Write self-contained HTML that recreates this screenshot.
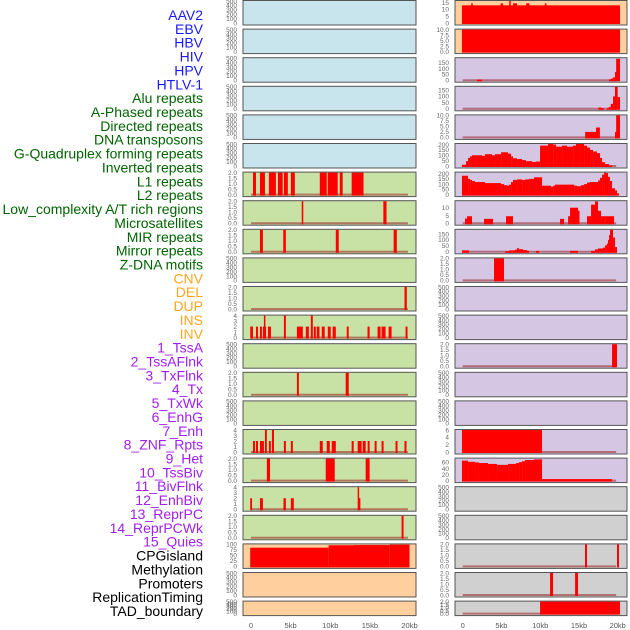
<!DOCTYPE html>
<html><head><meta charset="utf-8"><style>
html,body{margin:0;padding:0;background:#fff;}
svg{display:block;font-family:"Liberation Sans",sans-serif;}
</style></head><body>
<svg id="chart" width="630" height="630" viewBox="0 0 630 630" xmlns="http://www.w3.org/2000/svg"></svg>
<script>
const labels = ["AAV2","EBV","HBV","HIV","HPV","HTLV-1","Alu repeats","A-Phased repeats","Directed repeats","DNA transposons","G-Quadruplex forming repeats","Inverted repeats","L1 repeats","L2 repeats","Low_complexity A/T rich regions","Microsatellites","MIR repeats","Mirror repeats","Z-DNA motifs","CNV","DEL","DUP","INS","INV","1_TssA","2_TssAFlnk","3_TxFlnk","4_Tx","5_TxWk","6_EnhG","7_Enh","8_ZNF_Rpts","9_Het","10_TssBiv","11_BivFlnk","12_EnhBiv","13_ReprPC","14_ReprPCWk","15_Quies","CPGisland","Methylation","Promoters","ReplicationTiming","TAD_boundary"];
const groupSizes = [6,13,5,15,5];
const groupText = ["#1a1aff","#006400","#ffa520","#a020f0","#000000"];
const groupFill = ["#c8e4ec","#c8e1a4","#ffcf9e","#d5c6e3","#d0d0d0"];
const xTickKb = [0,5,10,15,20];
const xTickLabels = ["0","5kb","10kb","15kb","20kb"];

const E = [0,100,200,300,400,500];
const T2 = [0,0.5,1,1.5,2];
const T4 = [0,1,2,3,4];
// per-panel y ticks (44 panels, column-major)
const panelTicks = [E,E,E,E,E,E, T2,T2,T2,E,T2,T4,E,T2,E,T4,T2,T4,T2,[0,25,50,75,100],E,E,
  [0,5,10,15],[0,2.5,5,7.5,10],[0,50,100,150],[0,50,100,150],[0,2.5,5,7.5,10],[0,50,100,150,200],[0,50,100,150,200],[0,5,10],[0,50,100,150],T2,E,E,T2,E,E,[0,2,4,6],[0,20,40,60],E,E,T2,T2,T2];
const panelYmax = [500,500,500,500,500,500, 2,2,2,500,2,4,500,2,500,4,2,4,2,100,500,500,
  16.2,10,190,178,10,205,210,14.2,185,2,500,500,2,500,500,6,72.6,500,500,2,2,2];
const decimalTicks = [6,7,8,10,13,16,18, 23,26,31,34,41,42,43];

function stepSegs(starts, values, end){
  const out=[];
  for(let i=0;i<starts.length;i++) out.push([starts[i], i+1<starts.length?starts[i+1]:end, values[i]]);
  return out;
}
const txStarts = [-0.1,0.43,0.69,0.95,1.2,1.59,2.49,2.88,3.78,4.17,4.95,5.85,6.24,6.49,7.01,7.66,8.17,8.95,9.46,9.98,11.01,11.66,12.04,12.82,13.46,14.24,14.62,15.01,15.66,16.04,16.43,16.82,17.33,17.72,17.98,18.37,18.88];
const txValues = [12,45,75,90,100,100,95,110,100,110,128,115,90,72,65,55,45,38,42,190,210,200,180,190,180,190,205,210,190,172,150,135,120,75,35,18,5];
const txwkStarts = [-0.1,0.69,0.95,1.2,1.59,2.88,4.95,5.33,5.72,5.98,6.24,6.49,7.01,7.66,8.04,8.56,9.2,10.24,11.4,11.66,11.91,13.2,14.37,14.75,15.27,15.66,16.04,16.43,17.46,17.72,17.98,18.24,18.49,18.75,19.0,19.27,19.66,19.91];
const txwkValues = [180,150,140,130,120,110,100,90,85,95,120,140,145,140,145,150,165,85,75,85,95,95,85,80,90,100,115,120,135,160,190,210,205,170,130,60,40,12];
const quiesStarts = [-0.1,0.69,1.59,2.1,3.27,4.43,5.85,6.88,7.27,7.66,8.04,9.2,10.24];
const quiesValues = [66,62,60,58,55,52,55,58,61,64,68,70,5];
const full2 = (a)=>a.map(p=>[p[0],p[1],2]);

const panelSegs = [
  [],[],[],[],[],[],
  full2([[0.25,0.63],[1.13,1.76],[2.26,3.14],[3.4,4.0],[4.15,4.65],[5.03,5.53],[8.68,9.56],[9.68,10.94],[11.2,11.57],[12.7,14.2]]),
  full2([[6.4,6.6],[16.7,17.1]]),
  full2([[1.13,1.5],[4.07,4.4],[10.7,11.07],[18.0,18.4]]),
  [],
  full2([[19.37,19.66]]),
  [[-0.1,0.25,2],[0.63,0.88,2],[1.13,1.38,2],[1.5,1.9,2],[1.63,1.76,4],[2.14,2.52,2],[4.15,4.4,4],[5.79,6.54,2],[6.92,7.3,2],[7.55,7.8,4],[7.92,8.18,2],[8.3,8.64,2],[8.93,9.3,2],[9.69,10.06,2],[10.3,10.7,2],[12.08,12.33,2],[14.7,14.97,2],[15.97,16.35,2],[16.48,16.98,2],[17.36,17.74,2],[19.5,19.75,2]],
  [],
  full2([[5.79,6.04],[11.95,12.33]]),
  [],
  [[0.25,0.5,2],[0.63,0.88,2],[1.13,1.63,2],[1.76,2.0,4],[2.26,2.5,2],[2.64,2.9,4],[4.15,4.4,2],[5.03,5.28,2],[8.68,9.05,2],[9.56,9.94,2],[10.19,10.7,2],[12.7,12.96,2],[13.46,13.96,2],[14.09,14.47,2],[14.72,14.97,2],[15.6,15.85,2],[16.48,16.73,2],[18.24,18.49,2],[19.37,19.62,2]],
  full2([[2.0,2.4],[9.43,10.57],[14.47,14.97]]),
  [[-0.1,0.13,2],[1.13,1.5,2],[4.1,4.4,2],[5.03,5.4,2],[13.46,13.6,4],[13.6,13.8,2]],
  full2([[19.0,19.25]]),
  [[-0.1,9.8,85],[9.8,13.0,96],[13.0,17.5,97],[17.5,20.0,99]],
  [],[],
  [[-0.1,20.3,13],[1.1,1.3,14.5],[4.9,5.2,14.5],[6.0,6.2,17],[6.5,7.0,14.5],[8.2,8.6,14.5],[10.6,10.8,14.5]],
  [[-0.1,20.3,10]],
  [[1.85,2.5,5],[18.9,19.15,8],[19.15,19.4,15],[19.4,19.65,25],[19.65,19.8,70],[19.8,20.3,185]],
  [[17.5,17.85,10],[17.85,18.2,5],[18.6,18.85,5],[18.85,19.1,15],[19.1,19.4,40],[19.4,19.65,100],[19.65,20.0,178],[20.0,20.3,95]],
  [[15.8,17.2,2.5],[17.2,17.7,4.5],[19.65,19.8,2.5],[19.8,20.3,10]],
  stepSegs(txStarts, txValues, 19.27),
  stepSegs(txwkStarts, txwkValues, 20.17),
  [[0.3,0.56,3],[0.56,1.2,4.5],[2.75,3.91,2.8],[5.59,6.49,4.5],[12.56,13.08,2.8],[13.6,13.85,4.5],[13.85,14.88,10],[14.88,15.0,8],[16.04,16.56,4.5],[16.56,17.07,12],[17.07,17.46,14],[17.46,17.85,8],[17.85,18.37,4.5],[18.37,19.53,4.5]],
  [[-0.1,0.82,12],[5.46,5.98,5],[5.98,6.75,12],[6.75,7.0,18],[7.0,7.27,30],[7.27,7.78,22],[7.78,8.3,15],[8.3,8.56,8],[9.46,9.85,8],[13.85,14.88,8],[16.56,17.07,8],[17.07,17.46,20],[17.46,18.1,28],[18.1,18.37,35],[18.37,18.62,55],[18.62,18.75,70],[18.75,18.88,100],[18.88,19.01,140],[19.01,19.4,185],[19.4,19.66,120],[19.66,19.91,40]],
  full2([[4.04,5.33]]),
  [],[],
  full2([[19.27,19.91]]),
  [],[],
  [[-0.1,10.24,6]],
  stepSegs(quiesStarts, quiesValues, 19.27),
  [],[],
  full2([[15.78,16.04],[19.91,20.17]]),
  full2([[11.27,11.66],[14.5,14.88]]),
  full2([[9.98,20.3]])
];

const NS="http://www.w3.org/2000/svg";
const svg=document.getElementById('chart');
function mk(tag, attrs, parent){
  const el=document.createElementNS(NS,tag);
  for(const k in attrs) el.setAttribute(k, attrs[k]);
  (parent||svg).appendChild(el);
  return el;
}
function groupOf(i){let s=0;for(let g=0;g<groupSizes.length;g++){s+=groupSizes[g];if(i<s)return g;}return 4;}

// labels
labels.forEach((t,i)=>{
  const el=mk('text',{x:203,y:(20+i*13.86).toFixed(1),'text-anchor':'end','font-size':'14',fill:groupText[groupOf(i)]});
  
  
  el.textContent=t;
});

const cols=[{x0:243,x1:416,k0:251,k20:409.5,tx:237},{x0:455,x1:627,k0:462.7,k20:617.7,tx:449}];
for(let p=0;p<44;p++){
  const c=cols[p<22?0:1], r=p%22;
  const top=r*28.6, h=(r===21?15:25), bot=top+h;
  const xs=kb=>c.k0+(kb/20)*(c.k20-c.k0);
  const ymax=panelYmax[p];
  const ys=v=>bot-2-(Math.min(v,ymax)/ymax)*(h-3);
  const g=mk('g',{});
  
  
  const bg=mk('rect',{x:c.x0,y:top+0.5,width:c.x1-c.x0,height:h-0.5,fill:groupFill[groupOf(p)],stroke:'#555','stroke-width':1},g);
  
  
  const segs=panelSegs[p];
  if(segs.length){
    const bl=mk('line',{x1:xs(0),x2:xs(19.8),y1:bot-2,y2:bot-2,stroke:'#a03030','stroke-opacity':0.6,'stroke-width':2},g);
    
    
  }
  segs.forEach(s=>{
    const x1=Math.max(xs(s[0]),c.x0+1), x2=Math.min(xs(s[1]),c.x1-1);
    const y=ys(s[2]);
    const b=mk('rect',{x:x1.toFixed(2),y:y.toFixed(2),width:Math.max(1.5,x2-x1).toFixed(2),height:(bot-2-y+1).toFixed(2),fill:'#ff0000'},g);
    
    
  });
  const dec=decimalTicks.includes(p);
  panelTicks[p].forEach(t=>{
    const tl=mk('text',{x:c.tx,y:(ys(t)+2.3).toFixed(1),'text-anchor':'end','font-size':'6.5',fill:'#666'},g);
    
    
    tl.textContent= dec? (Number.isInteger(t)&&p!==23&&p!==26?t.toFixed(1):String(t%1===0?t.toFixed(1):t)) : String(t);
  });
}
// x axes
cols.forEach(c=>{
  xTickKb.forEach((k,i)=>{
    const x=c.k0+(k/20)*(c.k20-c.k0);
    const t=mk('text',{x:x.toFixed(1),y:628,'text-anchor':'middle','font-size':'7.5',fill:'#555'});
    
    
    t.textContent=xTickLabels[i];
  });
});
</script>
</body></html>
